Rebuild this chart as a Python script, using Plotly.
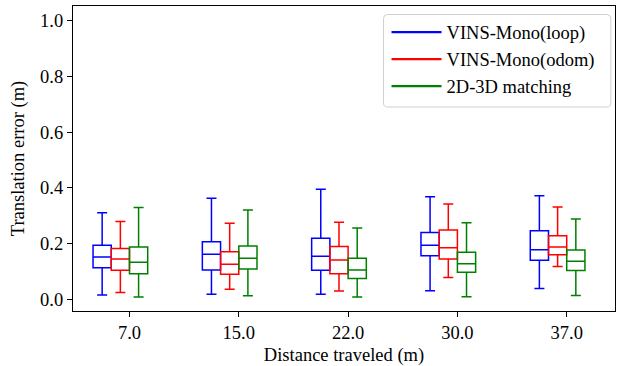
import plotly.graph_objects as go

# ---- data ----
categories = ["7.0", "15.0", "22.0", "30.0", "37.0"]
series_names = ["VINS-Mono(loop)", "VINS-Mono(odom)", "2D-3D matching"]
series_colors = ["#0000ff", "#ff0000", "#008000"]

loop_low = [0.015, 0.018, 0.018, 0.031, 0.039]
loop_q1 = [0.113, 0.105, 0.104, 0.156, 0.140]
loop_med = [0.152, 0.162, 0.155, 0.194, 0.178]
loop_q3 = [0.194, 0.207, 0.219, 0.240, 0.246]
loop_high = [0.311, 0.363, 0.395, 0.368, 0.372]

odom_low = [0.024, 0.036, 0.030, 0.078, 0.118]
odom_q1 = [0.104, 0.090, 0.092, 0.145, 0.160]
odom_med = [0.145, 0.126, 0.141, 0.185, 0.188]
odom_q3 = [0.182, 0.171, 0.190, 0.249, 0.228]
odom_high = [0.279, 0.273, 0.277, 0.342, 0.331]

match_low = [0.008, 0.013, 0.008, 0.009, 0.014]
match_q1 = [0.092, 0.109, 0.075, 0.097, 0.103]
match_med = [0.133, 0.147, 0.105, 0.128, 0.137]
match_q3 = [0.188, 0.191, 0.147, 0.169, 0.177]
match_high = [0.330, 0.321, 0.256, 0.275, 0.288]

stats = [
    (loop_low, loop_q1, loop_med, loop_q3, loop_high),
    (odom_low, odom_q1, odom_med, odom_q3, odom_high),
    (match_low, match_q1, match_med, match_q3, match_high),
]

FONT = "Liberation Serif"
FS = 18.5
GROUP_STEP = 6

fig = go.Figure()
for k, (name, color, (lo, q1, med, q3, hi)) in enumerate(zip(series_names, series_colors, stats)):
    xs = [GROUP_STEP * i + k for i in range(len(categories))]
    fig.add_trace(go.Box(
        x=xs, lowerfence=lo, q1=q1, median=med, q3=q3, upperfence=hi,
        width=1.0, whiskerwidth=0.55,
        line=dict(color=color, width=1.5),
        fillcolor="rgba(0,0,0,0)",
        showlegend=False, hoverinfo="skip", name=name,
    ))
    # legend entry drawn as a line
    fig.add_trace(go.Scatter(
        x=[None], y=[None], mode="lines", name=name,
        line=dict(color=color, width=2.2),
    ))

tickvals = [GROUP_STEP * i + 1.5 for i in range(len(categories))]

# rounded legend frame (paper coords)
W, H = 618, 366
l, r, t, b = 73, 1.3, 6, 55
pw, ph = W - l - r, H - t - b
def px2paper(x, y):
    return (x - l) / pw, (H - b - y) / ph
x0, y0 = 384.5, 14.5
x1, y1 = 612.5, 107
rad = 4
def P(x, y):
    a, c = px2paper(x, y)
    return f"{a:.5f},{c:.5f}"
path = (f"M{P(x0+rad, y0)} L{P(x1-rad, y0)} Q{P(x1, y0)} {P(x1, y0+rad)} "
        f"L{P(x1, y1-rad)} Q{P(x1, y1)} {P(x1-rad, y1)} "
        f"L{P(x0+rad, y1)} Q{P(x0, y1)} {P(x0, y1-rad)} "
        f"L{P(x0, y0+rad)} Q{P(x0, y0)} {P(x0+rad, y0)} Z")

fig.update_layout(
    width=W, height=H,
    margin=dict(l=l, r=r, t=t, b=b),
    paper_bgcolor="white", plot_bgcolor="white",
    font=dict(family=FONT, size=FS, color="black"),
    boxmode="overlay",
    shapes=[dict(type="path", path=path, xref="paper", yref="paper",
                 line=dict(color="#d0d0d0", width=1), fillcolor="rgba(255,255,255,0.8)",
                 layer="above")],
    legend=dict(x=(x0 + 3 - l) / pw, y=(H - b - y0 + 1) / ph, xanchor="left", yanchor="top",
                bgcolor="rgba(0,0,0,0)", borderwidth=0, itemwidth=50,
                font=dict(family=FONT, size=FS), tracegroupgap=0),
    xaxis=dict(range=[-1.6, 28.15], tickvals=tickvals, ticktext=categories,
               showgrid=False, zeroline=False, showline=True, mirror=True,
               linecolor="black", linewidth=1.2, ticks="outside", ticklen=5,
               tickwidth=1, tickcolor="black",
               title=dict(text="Distance traveled (m)", standoff=6,
                          font=dict(family=FONT, size=FS))),
    yaxis=dict(range=[-0.042, 1.053], tickvals=[0, 0.2, 0.4, 0.6, 0.8, 1.0],
               ticktext=["0.0", "0.2", "0.4", "0.6", "0.8", "1.0"],
               showgrid=False, zeroline=False, showline=True, mirror=True,
               linecolor="black", linewidth=1.2, ticks="outside", ticklen=5,
               tickwidth=1, tickcolor="black",
               title=dict(text="Translation error (m)", standoff=10,
                          font=dict(family=FONT, size=FS))),
)

fig.write_html("out.html",
               config={"displayModeBar": False},
               post_script="document.body.style.margin='0';document.body.style.overflow='hidden';")
